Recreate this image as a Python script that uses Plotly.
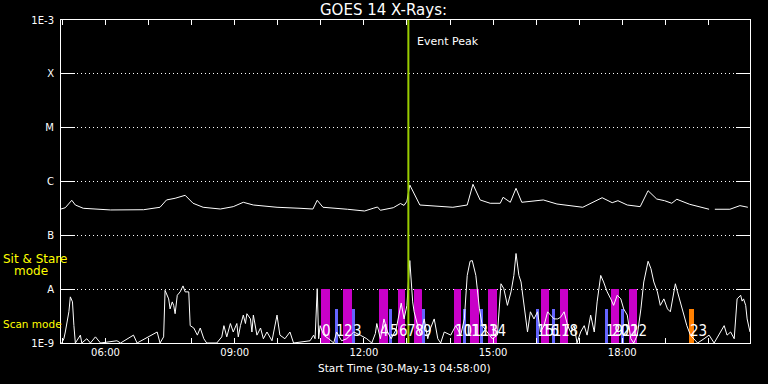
import pandas as pd
import plotly.graph_objects as go

DAY = "2013-05-30 "

# GOES 14 long channel (1-8 A), W/m^2  (None = data gap)
long_times = ["04:58", "05:04", "05:13", "05:18", "05:29", "06:07", "06:53", "07:16", "07:25", "07:37",
              "07:51", "08:02", "08:16", "08:40", "08:58", "09:12", "09:26", "09:59", "10:31", "10:49",
              "10:55", "11:03", "11:37", "12:01", "12:13", "12:19", "12:23", "12:41", "12:51", "12:56",
              "13:00", "13:02", "13:04", "13:18", "13:37", "14:04", "14:24", "14:32", "14:42", "14:56",
              "15:10", "15:14", "15:24", "15:32", "15:40", "16:10", "16:29", "17:05", "17:32", "17:46",
              "17:54", "18:07", "18:25", "18:36", "18:48", "18:59", "19:09", "19:16", "19:34", "19:58",
              "20:01", "20:05", "20:09", "20:30", "20:44", "20:55"]
long_flux = [3.08e-7, 3.26e-7, 4.48e-7, 3.66e-7, 3.18e-7, 2.96e-7, 2.99e-7, 3.32e-7, 4.54e-7, 4.88e-7,
             5.54e-7, 3.94e-7, 3.32e-7, 3.08e-7, 3.41e-7, 4.11e-7, 3.66e-7, 3.32e-7, 3.18e-7, 3.08e-7,
             4.48e-7, 3.32e-7, 3.05e-7, 2.83e-7, 3.18e-7, 3.36e-7, 2.92e-7, 3.26e-7, 3.9e-7, 3.6e-7,
             4.3e-7, 6.5e-7, 8.6e-7, 3.66e-7, 3.56e-7, 3.32e-7, 3.66e-7, 8.87e-7, 4.54e-7, 3.94e-7,
             3.94e-7, 5.09e-7, 4.11e-7, 7.48e-7, 4.11e-7, 4.54e-7, 3.82e-7, 3.32e-7, 5.0e-7, 4.04e-7,
             4.4e-7, 3.66e-7, 3.41e-7, 6.75e-7, 4.73e-7, 4.4e-7, 3.94e-7, 4.68e-7, 3.77e-7, 3.18e-7,
             3.05e-7, None, 3.05e-7, 3.05e-7, 3.56e-7, 3.32e-7]

# GOES 14 short channel (0.5-4 A), W/m^2
short_times = ["04:59", "05:02", "05:04", "05:07", "05:09", "05:11", "05:14", "05:16", "05:18", "05:25",
               "05:27", "05:34", "05:39", "05:46", "05:53", "06:16", "06:21", "06:39", "06:44", "07:12",
               "07:16", "07:21", "07:23", "07:28", "07:30", "07:33", "07:35", "07:37", "07:40", "07:44",
               "07:48", "07:51", "07:56", "07:58", "08:03", "08:08", "08:12", "08:17", "08:21", "08:35",
               "08:42", "08:45", "08:49", "08:54", "08:58", "09:03", "09:05", "09:08", "09:12", "09:15",
               "09:17", "09:22", "09:24", "09:26", "09:31", "09:36", "09:40", "09:45", "09:52", "09:59",
               "10:03", "10:10", "10:17", "10:22", "10:45", "10:50", "10:52", "10:55", "10:57", "10:59",
               "11:04", "11:11", "11:18", "11:22", "11:29", "11:36", "11:46", "11:55", "12:04", "12:11",
               "12:16", "12:18", "12:23", "12:28", "12:33", "12:38", "12:45", "12:52", "12:56", "13:00",
               "13:04", "13:08", "13:10", "13:15", "13:19", "13:24", "13:29", "13:33", "13:38", "13:43",
               "13:47", "13:52", "14:01", "14:08", "14:15", "14:20", "14:24", "14:28", "14:31", "14:36",
               "14:41", "14:45", "14:52", "14:59", "15:06", "15:11", "15:15", "15:20", "15:25", "15:29",
               "15:32", "15:36", "15:39", "15:43", "15:48", "15:52", "15:57", "16:02", "16:06", "16:11",
               "16:16", "16:20", "16:25", "16:30", "16:34", "16:39", "16:44", "16:48", "16:53", "16:57",
               "17:02", "17:07", "17:11", "17:16", "17:21", "17:25", "17:30", "17:34", "17:39", "17:44",
               "17:48", "17:53", "17:58", "18:02", "18:07", "18:12", "18:16", "18:21", "18:26", "18:30",
               "18:36", "18:40", "18:44", "18:49", "18:53", "18:58", "19:03", "19:07", "19:12", "19:14",
               "19:17", "19:21", "19:26", "19:30", "19:35", "19:40", "19:45", "19:54", "20:01", "20:08",
               "20:17", "20:22", "20:26", "20:31", "20:36", "20:40", "20:45", "20:47", "20:49", "20:52",
               "20:54", "20:58"]
short_flux = [1.0e-9, 1.2e-9, 1.6e-9, 2.8e-9, 3.8e-9, 7.2e-9, 5.8e-9, 2.1e-9, 1.0e-9, 1.4e-9,
              1.0e-9, 1.2e-9, 1.0e-9, 1.3e-9, 1.0e-9, 1.1e-9, 1.0e-9, 1.4e-9, 1.0e-9, 1.6e-9,
              1.0e-9, 1.3e-9, 9.5e-9, 6.6e-9, 4.3e-9, 5.8e-9, 5.0e-9, 3.5e-9, 7.7e-9, 8.9e-9,
              1.15e-8, 8.9e-9, 8.9e-9, 2.1e-9, 1.9e-9, 1.4e-9, 1.9e-9, 1.2e-9, 1.0e-9, 1.0e-9,
              1.3e-9, 2.1e-9, 1.3e-9, 2.3e-9, 1.6e-9, 2.3e-9, 1.3e-9, 2.1e-9, 3.3e-9, 2.3e-9,
              3.5e-9, 2.8e-9, 1.6e-9, 3.3e-9, 1.4e-9, 1.9e-9, 1.2e-9, 1.6e-9, 1.1e-9, 3.3e-9,
              1.4e-9, 1.2e-9, 1.6e-9, 1.0e-9, 1.1e-9, 1.4e-9, 1.2e-9, 1.02e-8, 1.2e-9, 2.1e-9,
              1.4e-9, 1.2e-9, 1.0e-9, 1.6e-9, 1.1e-9, 1.2e-9, 1.6e-9, 1.4e-9, 1.2e-9, 1.0e-9,
              1.5e-9, 2.3e-9, 1.2e-9, 2.8e-9, 1.6e-9, 1.2e-9, 1.8e-9, 5.5e-9, 2.8e-9, 5.0e-9,
              3.4e-8, 5.8e-9, 3.8e-9, 2.1e-9, 1.4e-9, 2.8e-9, 1.2e-9, 1.9e-9, 2.8e-9, 1.2e-9,
              1.0e-9, 1.6e-9, 1.4e-9, 2.1e-9, 1.4e-9, 2.8e-9, 1.8e-8, 3.3e-8, 3.4e-8, 1.8e-8,
              4.3e-9, 2.1e-9, 1.6e-9, 1.2e-9, 1.4e-9, 1.26e-8, 1.02e-8, 5.0e-9, 8.9e-9, 1.8e-8,
              4.6e-8, 1.8e-8, 1.36e-8, 5.8e-9, 1.6e-9, 3.8e-9, 2.8e-9, 3.8e-9, 1.6e-9, 2.1e-9,
              3.8e-9, 3.3e-9, 2.8e-9, 2.8e-9, 3.0e-9, 3.8e-9, 2.1e-9, 1.6e-9, 2.1e-9, 1.0e-9,
              1.6e-9, 2.1e-9, 1.4e-9, 3.3e-9, 1.6e-9, 5.8e-9, 1.8e-8, 1.36e-8, 8.9e-9, 6.6e-9,
              5.0e-9, 7.7e-9, 6.6e-9, 4.3e-9, 3.3e-9, 1.2e-9, 1.0e-9, 1.4e-9, 4.3e-9, 1.36e-8,
              3.3e-8, 2.4e-8, 1.36e-8, 8.9e-9, 5.0e-9, 6.6e-9, 4.3e-9, 3.8e-9, 8.9e-9, 1.26e-8,
              8.9e-9, 5.8e-9, 3.3e-9, 2.1e-9, 1.4e-9, 1.2e-9, 1.0e-9, 1.2e-9, 1.4e-9, 1.0e-9,
              1.6e-9, 2.1e-9, 1.4e-9, 1.6e-9, 1.2e-9, 6.6e-9, 7.7e-9, 6.0e-9, 6.6e-9, 5.0e-9,
              2.8e-9, 1.6e-9]

# Sit & Stare observation windows (magenta), scan windows (blue), other (orange)
stare_start = ["11:00", "11:31", "12:21", "12:47", "13:10", "14:05", "14:28", "14:53", "16:07", "16:33", "17:44", "18:09"]
stare_end = ["11:13", "11:44", "12:33", "12:57", "13:21", "14:15", "14:41", "15:06", "16:18", "16:44", "17:56", "18:21"]
scan_start = ["11:20", "11:44", "12:35", "13:21", "14:18", "14:42", "16:00", "16:22", "17:36", "17:58"]
scan_end = ["11:24", "11:47", "12:39", "13:25", "14:22", "14:46", "16:04", "16:26", "17:40", "18:02"]
other_start = ["19:33"]
other_end = ["19:40"]
STARE_LEVEL = 1.0e-8
SCAN_LEVEL = 4.2e-9
FLOOR = 1.0e-9

obs_labels = [str(i) for i in range(24)]
obs_label_times = ["11:00", "11:20", "11:31", "11:44", "12:21", "12:35", "12:47", "12:59", "13:10", "13:21",
                   "14:05", "14:18", "14:28", "14:42", "14:53", "16:00", "16:07", "16:22", "16:33",
                   "17:36", "17:44", "17:58", "18:09", "19:33"]

event_peak = "13:02"
x_start, x_end = "04:58", "20:58"
y_tickvals = [1e-9, 1e-8, 1e-7, 1e-6, 1e-5, 1e-4, 1e-3]
y_ticktext = ["1E-9", "A", "B", "C", "M", "X", "1E-3"]


def ts(t):
    return pd.Timestamp(DAY + t)


fig = go.Figure()


def add_bars(starts, ends, top, color):
    xs = [ts(s) for s in starts]
    widths = [(ts(e) - ts(s)).total_seconds() * 1000 for s, e in zip(starts, ends)]
    fig.add_trace(go.Bar(x=xs, y=[top - FLOOR] * len(xs), base=[FLOOR] * len(xs), width=widths,
                         offset=0, marker=dict(color=color, line=dict(width=0)), hoverinfo="skip"))


add_bars(stare_start, stare_end, STARE_LEVEL, "#c800c8")
add_bars(scan_start, scan_end, SCAN_LEVEL, "#6464ff")
add_bars(other_start, other_end, SCAN_LEVEL, "#ff8000")

fig.add_trace(go.Scatter(x=[ts(t) for t in long_times], y=long_flux, mode="lines",
                         line=dict(color="white", width=1), connectgaps=False))
fig.add_trace(go.Scatter(x=[ts(t) for t in short_times], y=short_flux, mode="lines",
                         line=dict(color="white", width=1)))
fig.add_trace(go.Scatter(x=[ts(event_peak), ts(event_peak)], y=[FLOOR, 1e-3], mode="lines",
                         line=dict(color="#99cc00", width=2)))

font = "DejaVu Sans, Liberation Sans, sans-serif"
ann = []
for lab, t in zip(obs_labels, obs_label_times):
    ann.append(dict(x=ts(t), xref="x", y=0.004, yref="paper", text=lab, showarrow=False,
                    xanchor="left", yanchor="bottom", xshift=-1,
                    font=dict(color="white", size=15, family="Liberation Sans Narrow, DejaVu Sans Condensed, Liberation Sans")))
ann.append(dict(x=ts(event_peak), xref="x", y=(343 - 41.5) / 323, yref="paper", text="Event Peak",
                showarrow=False, xanchor="left", yanchor="middle", xshift=7,
                font=dict(color="white", size=11, family=font)))
ann.append(dict(x=(1 - 61) / 689, xref="paper", y=(343 - 259) / 323, yref="paper", text="Sit & Stare",
                showarrow=False, xanchor="left", yanchor="middle",
                font=dict(color="#ffff00", size=12, family=font)))
ann.append(dict(x=(12 - 61) / 689, xref="paper", y=(343 - 271) / 323, yref="paper", text="mode",
                showarrow=False, xanchor="left", yanchor="middle",
                font=dict(color="#ffff00", size=12, family=font)))
ann.append(dict(x=(1 - 61) / 689, xref="paper", y=(343 - 324) / 323, yref="paper", text="Scan mode",
                showarrow=False, xanchor="left", yanchor="middle",
                font=dict(color="#ffff00", size=10.5, family=font)))
ann.append(dict(x=(404 - 61) / 689, xref="paper", y=(343 - 368) / 323, yref="paper",
                text="Start Time (30-May-13 04:58:00)", showarrow=False, xanchor="center", yanchor="middle",
                font=dict(color="white", size=10.5, family=font)))

fig.update_layout(
    width=768, height=384,
    margin=dict(l=61, r=18, t=20, b=41),
    paper_bgcolor="black", plot_bgcolor="black",
    showlegend=False, barmode="overlay", bargap=0,
    title=dict(text="GOES 14 X-Rays:", x=(383.5 - 0) / 768, xanchor="center", y=1 - 9.5 / 384, yanchor="middle",
               font=dict(color="white", size=15, family=font)),
    annotations=ann,
    xaxis=dict(type="date", range=[ts(x_start), ts(x_end)], tickformat="%H:%M",
               dtick=3 * 3600 * 1000, tick0=ts("06:00"),
               ticks="inside", ticklen=5, tickcolor="white", tickwidth=1,
               minor=dict(dtick=3600 * 1000, ticks="inside", ticklen=5, tickcolor="white", showgrid=False),
               showgrid=False, zeroline=False, showline=True, linecolor="white", linewidth=1,
               mirror="ticks", tickfont=dict(color="white", size=10, family=font)),
    yaxis=dict(type="log", range=[-9, -3], tickvals=y_tickvals, ticktext=y_ticktext,
               ticks="inside", ticklen=14, tickcolor="white", tickwidth=1,
               showgrid=True, gridcolor="white", griddash="1px,3px", gridwidth=1,
               zeroline=False, showline=True, linecolor="white", linewidth=1, mirror="ticks",
               tickfont=dict(color="white", size=10, family=font), ticklabelstandoff=4),
)

fig.write_html("out.html", config={"displayModeBar": False},
               post_script="document.body.style.margin='0px';document.body.style.background='black';")
